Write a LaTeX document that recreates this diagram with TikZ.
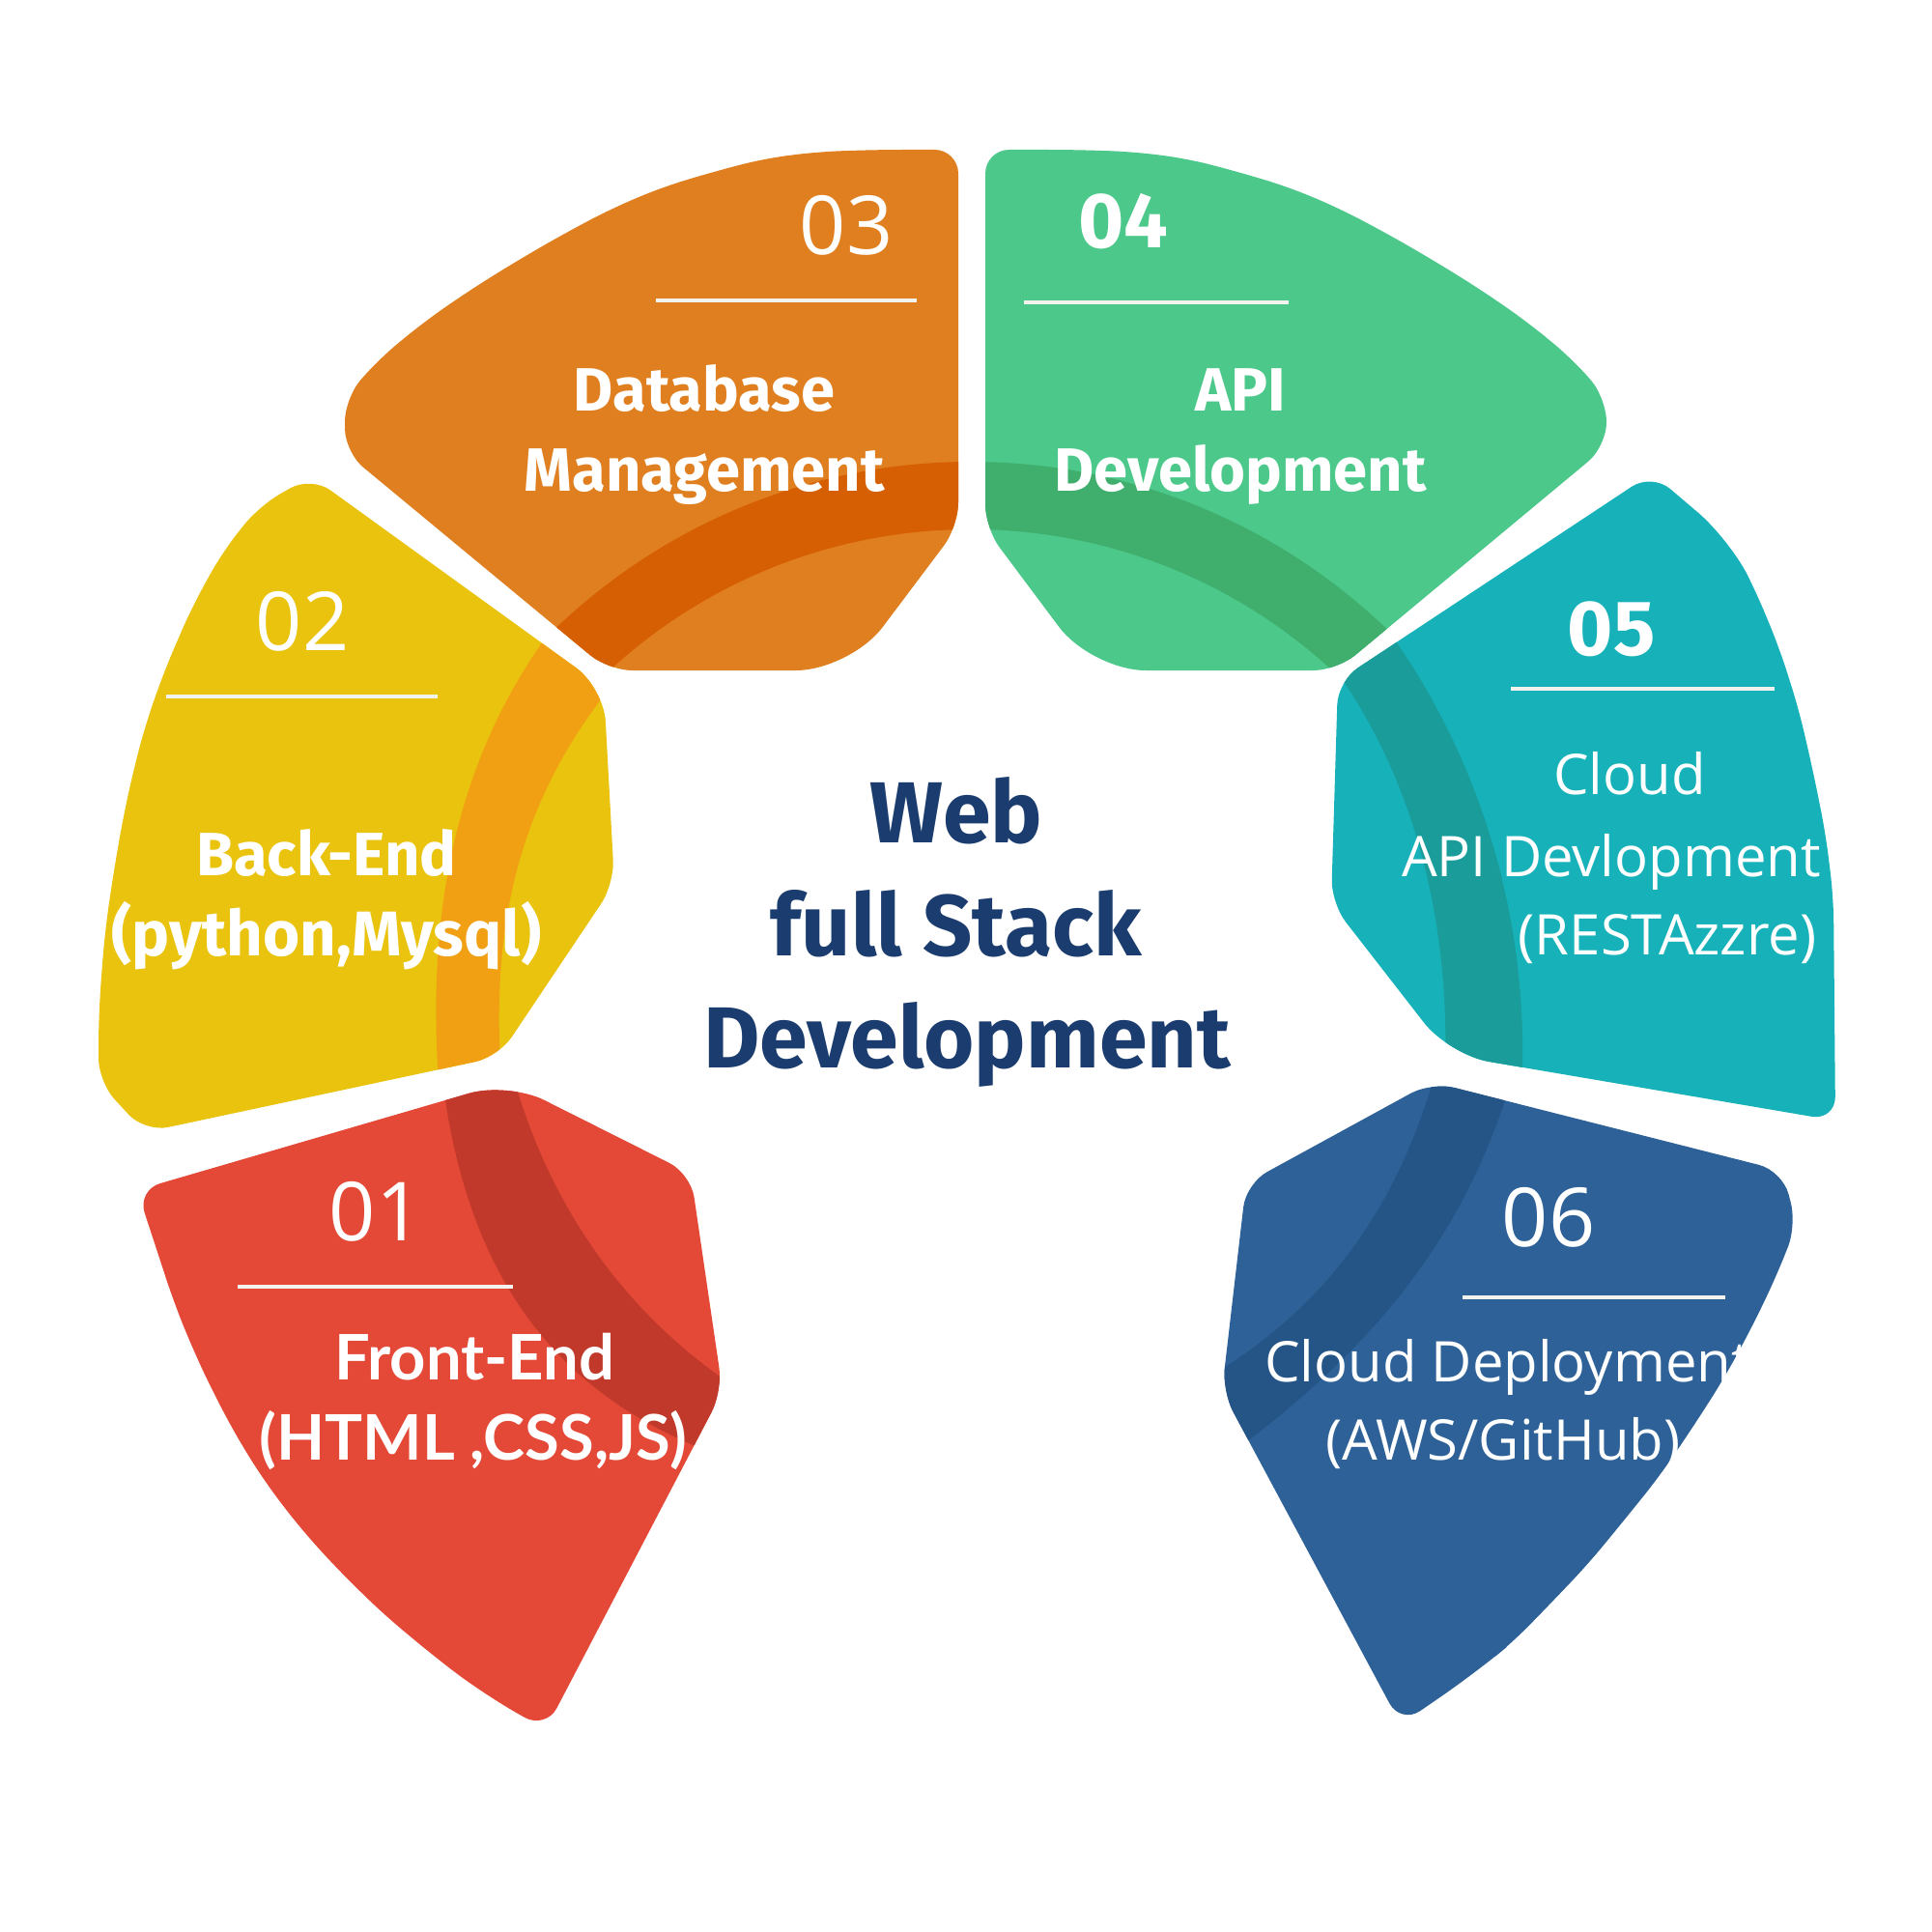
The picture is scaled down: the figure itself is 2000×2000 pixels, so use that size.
\documentclass[tikz,border=0pt]{standalone}
\usepackage{fontspec}
\setmainfont{Fira Sans}
\newfontfamily\opensans{Open Sans}
\newfontfamily\latofont{Lato}
\definecolor{cOrange}{HTML}{E07F20}
\definecolor{bOrange}{HTML}{D65F03}
\definecolor{cGreen}{HTML}{4CC98A}
\definecolor{bGreen}{HTML}{40AF6E}
\definecolor{cYellow}{HTML}{EAC30F}
\definecolor{bYellow}{HTML}{F0A012}
\definecolor{cRed}{HTML}{E34936}
\definecolor{bRed}{HTML}{C0392A}
\definecolor{cTeal}{HTML}{17B2B9}
\definecolor{bTeal}{HTML}{1A9C9B}
\definecolor{cBlue}{HTML}{2D6197}
\definecolor{bBlue}{HTML}{245586}
\definecolor{cNavy}{HTML}{1B3C6E}
\definecolor{cRule}{HTML}{F2F2EE}
\newcommand\pathOrange{(992,155) -- (992,545) [rounded corners=16pt] -- (880,694) [rounded corners=7pt] -- (630,694) -- (357,468) -- (357,412) -- (392,372) -- (438,334) -- (484,302) -- (532,272) -- (582,243) -- (633,216) -- (685,194) -- (738,178) -- (792,164) -- (848,157) -- (910,155) -- cycle}
\newcommand\pathGreen{(1020,155) -- (1020,547) [rounded corners=16pt] -- (1130,694) [rounded corners=7pt] -- (1384,694) -- (1663,462) -- (1663,412) -- (1628,372) -- (1582,334) -- (1536,302) -- (1488,272) -- (1438,243) -- (1387,216) -- (1335,194) -- (1282,178) -- (1228,164) -- (1172,157) -- (1110,155) -- cycle}
\newcommand\pathYellow{(625,712) -- (636,915) -- (516,1094) -- (150,1172) -- (102,1120) -- (102,1060) -- (105,1007) -- (110,954) -- (118,901) -- (127,849) -- (138,798) -- (151,749) -- (170,695) -- (198,630) -- (230,572) -- (268,524) -- (322,493) [rounded corners=10pt] -- cycle}
\newcommand\pathRed{(526,1120) -- (715,1215) -- (748,1440) -- (565,1790) [rounded corners=12pt] -- (502,1755) [rounded corners=7pt] -- (445,1711) -- (396,1670) -- (350,1625) -- (311,1582) -- (275,1535) -- (246,1489) -- (220,1440) -- (199,1395) -- (180,1348) -- (142,1232) [rounded corners=12pt] -- cycle}
\newcommand\pathBlue{(1482,1120) -- (1290,1225) -- (1265,1440) -- (1450,1785) [rounded corners=12pt] -- (1527,1732) [rounded corners=7pt] -- (1567,1699) -- (1605,1660) -- (1644,1619) -- (1681,1574) -- (1718,1528) -- (1752,1478) -- (1784,1428) -- (1813,1375) -- (1838,1323) -- (1860,1268) -- (1845,1212) -- cycle}
\newcommand\pathTeal{(1710,490) [rounded corners=12pt] -- (1790,558) [rounded corners=7pt] -- (1818,613) -- (1842,671) -- (1862,734) -- (1877,799) -- (1890,864) -- (1898,930) -- (1900,1160) [rounded corners=12pt] -- (1500,1092) [rounded corners=7pt] -- (1378,935) -- (1385,705) -- cycle}
\tikzset{
  petal/.style={rounded corners=7pt},
  rulestyle/.style={draw=cRule, line width=1.3pt},
  lbl/.style={text=white, inner sep=0pt, anchor=base, font=\fontsize{18}{22}\selectfont\bfseries},
  numlight/.style={text=white, inner sep=0pt, anchor=base, font=\opensans\fontsize{24}{28}\selectfont},
  numbold/.style={text=white, inner sep=0pt, anchor=base, font=\fontsize{23}{27}\selectfont\bfseries},
  cloudlbl/.style={text=white, inner sep=0pt, anchor=base, font=\opensans\fontsize{16.5}{20}\selectfont},
  frontlbl/.style={text=white, inner sep=0pt, anchor=base, font=\latofont\fontsize{18.5}{22}\selectfont\bfseries},
  titlelbl/.style={text=cNavy, inner sep=0pt, anchor=base, font=\fontsize{25.5}{30}\selectfont\bfseries}
}
\begin{document}
\begin{tikzpicture}[x=0.01cm, y=-0.01cm]
\fill[white] (0,0) rectangle (2000,2000);
\useasboundingbox (0,0) rectangle (2000,2000);
% petal 03 orange
\fill[cOrange, petal] \pathOrange;
\begin{scope}
\clip[petal] \pathOrange;
\fill[bOrange, even odd rule] (1005,1100) circle[radius=622] (1005,1100) circle[radius=552];
\end{scope}
% petal 04 green
\fill[cGreen, petal] \pathGreen;
\begin{scope}
\clip[petal] \pathGreen;
\fill[bGreen, even odd rule] (1005,1100) circle[radius=622] (1005,1100) circle[radius=552];
\end{scope}
% petal 02 yellow
\fill[cYellow, petal] \pathYellow;
\begin{scope}
\clip[petal] \pathYellow;
\fill[bYellow] (580,640) .. controls (470,780) and (440,950) .. (455,1130) -- (520,1130) .. controls (505,950) and (540,820) .. (645,695) -- cycle;
\end{scope}
% petal 01 red
\fill[cRed, petal] \pathRed;
\begin{scope}
\clip[petal] \pathRed;
\fill[bRed] (455,1090) .. controls (475,1300) and (560,1450) .. (770,1515) -- (775,1445) .. controls (640,1360) and (560,1235) .. (525,1090) -- cycle;
\end{scope}
% petal 05 teal
\fill[cTeal, petal] \pathTeal;
\begin{scope}
\clip[petal] \pathTeal;
\fill[bTeal] (1380,690) .. controls (1460,800) and (1505,950) .. (1495,1130) -- (1575,1130) .. controls (1585,950) and (1530,780) .. (1435,650) -- cycle;
\end{scope}
% petal 06 blue
\fill[cBlue, petal] \pathBlue;
\begin{scope}
\clip[petal] \pathBlue;
\fill[bBlue] (1490,1095) .. controls (1450,1250) and (1370,1360) .. (1235,1435) -- (1260,1515) .. controls (1420,1400) and (1520,1280) .. (1570,1100) -- cycle;
\end{scope}
% numbers and rules
\node[numlight] (n03) at (876,264) {03};
\coordinate (r03a) at (679,311); \coordinate (r03b) at (949,311);
\draw[rulestyle] (r03a) -- (r03b);
\node[numbold] (n04) at (1163,257) {04};
\coordinate (r04a) at (1060,313); \coordinate (r04b) at (1334,313);
\draw[rulestyle] (r04a) -- (r04b);
\node[numlight] (n02) at (313,673) {02};
\coordinate (r02a) at (172,721); \coordinate (r02b) at (453,721);
\draw[rulestyle] (r02a) -- (r02b);
\node[numbold] (n05) at (1668,678) {05};
\coordinate (r05a) at (1564,713); \coordinate (r05b) at (1837,713);
\draw[rulestyle] (r05a) -- (r05b);
\node[numlight] (n01) at (389,1284) {01};
\coordinate (r01a) at (246,1332); \coordinate (r01b) at (531,1332);
\draw[rulestyle] (r01a) -- (r01b);
\node[numlight] (n06) at (1603,1290) {06};
\coordinate (r06a) at (1514,1343); \coordinate (r06b) at (1786,1343);
\draw[rulestyle] (r06a) -- (r06b);
% labels
\node[lbl] (db1) at (729,425) {Database};
\node[lbl] (db2) at (729,508) {Management};
\node[lbl] (api1) at (1284,425) {API};
\node[lbl] (api2) at (1284,508) {Development};
\node[lbl] (be1) at (338,906) {Back-End};
\node[lbl, font=\fontsize{18.6}{22}\selectfont\bfseries] (be2) at (338,989) {(python,Mysql)};
\node[frontlbl] (fe1) at (491,1428) {Front-End};
\node[frontlbl] (fe2) at (490,1511) {(HTML ,CSS,JS)};
\node[cloudlbl] (ca1) at (1687,822) {Cloud};
\node[cloudlbl] (ca2) at (1668,907) {API Devlopment};
\node[cloudlbl] (ca3) at (1726,988) {(RESTAzzre)};
\node[cloudlbl] (cd1) at (1561,1430) {Cloud Deployment};
\node[cloudlbl] (cd2) at (1556,1511) {(AWS/GitHub)};
% title
\node[titlelbl] (t1) at (990,872) {Web};
\node[titlelbl] (t2) at (990,989) {full Stack};
\node[titlelbl] (t3) at (1001,1105) {Development};
\end{tikzpicture}
\end{document}
